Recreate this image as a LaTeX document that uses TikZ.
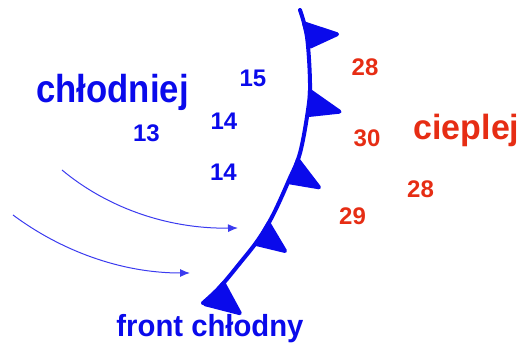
\documentclass[tikz,border=0pt]{standalone}
\usepackage{graphicx}
\usepackage{fontspec}
\setmainfont{Liberation Sans}
\usepackage{tikz}
\usepackage{xcolor}
\usetikzlibrary{decorations.markings}
\usetikzlibrary{arrows.meta}
\definecolor{coldblue}{RGB}{10,10,235}
\definecolor{warmred}{RGB}{230,45,20}
\tikzstyle{cold} = [text=coldblue, font=\fontsize{24}{24}\selectfont\bfseries, inner sep=0pt]
\tikzstyle{warm} = [text=warmred, font=\fontsize{24}{24}\selectfont\bfseries, inner sep=0pt]
\tikzstyle{label} = [anchor=base, inner sep=0pt]
\tikzstyle{wind} = [coldblue!80, line width=1pt, -{Latex[length=10pt,width=8pt]}]
\tikzstyle{spike} = [fill=coldblue, draw=coldblue, line join=round]
\tikzstyle{front} = [draw=coldblue, line width=4pt, line cap=round, line join=round]

\begin{document}
\begin{tikzpicture}[x=1pt, y=-1pt]
        \useasboundingbox (0,0) rectangle (522,347);

        % front line with its triangles
        \draw [front, postaction={decorate}, decoration={markings,
            mark=at position 14pt with {\fill [spike] (0,0) -- (24,0) -- (19,-29) -- cycle;},
            mark=at position 82pt with {\fill [spike] (0,0) -- (24,0) -- (20,-30) -- cycle;},
            mark=at position 152pt with {\fill [spike] (0,0) -- (24,0) -- (19,-29) -- cycle;},
            mark=at position 222pt with {\fill [spike] (0,0) -- (24,0) -- (16,-28) -- cycle;},
            mark=at position 297pt with {\fill [spike] (0,0) -- (28,0) -- (12,-32) -- cycle;}}]
            plot [smooth, tension=0.6] coordinates {(300,10) (307,37) (310,83) (308,110) (300,153)
              (289,180) (273,215) (258,240) (240,263) (220,287) (203,303)};

        % temperatures
        \node (t15) [cold] at (253,78) {15};
        \node (t14a) [cold] at (224,121.5) {14};
        \node (t13) [cold] at (146.5,133.5) {13};
        \node (t14b) [cold] at (223.5,172.5) {14};
        \node (t28a) [warm] at (365,67) {28};
        \node (t30) [warm] at (367,138.5) {30};
        \node (t28b) [warm] at (420.5,189.5) {28};
        \node (t29) [warm] at (352.5,216) {29};

        % air masses
        \node (cold) [label, text=coldblue, font=\fontsize{39}{39}\selectfont\bfseries] at (112.5,103) {\scalebox{0.89}[1]{chłodniej}};
        \node (warm) [label, text=warmred, font=\fontsize{35}{35}\selectfont\bfseries] at (466.5,140) {\scalebox{0.97}[1]{cieplej}};
        \node (name) [label, text=coldblue, font=\fontsize{30.5}{30.5}\selectfont\bfseries] at (210,337) {\scalebox{0.96}[1]{front chłodny}};

        % winds
        \coordinate (windAfrom) at (62,170);
        \coordinate (windAto) at (238,228);
        \coordinate (windBfrom) at (13,215);
        \coordinate (windBto) at (190,273);
        \draw [wind] (windAfrom) .. controls (105,206) and (165,229) .. (windAto);
        \draw [wind] (windBfrom) .. controls (60,250) and (120,273) .. (windBto);

    \end{tikzpicture}
\end{document}
